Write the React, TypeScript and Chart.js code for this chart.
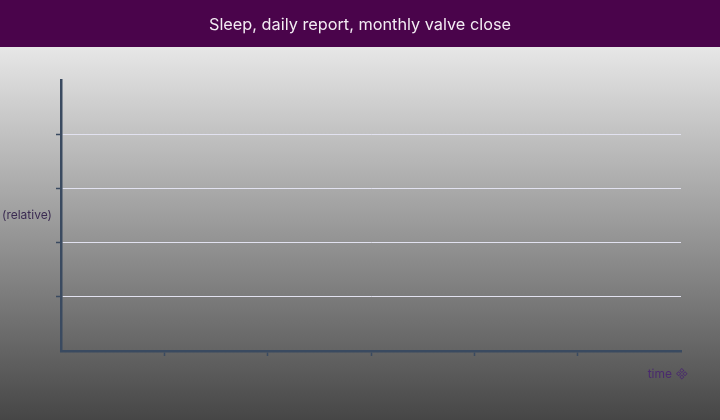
import { useEffect, useRef } from "react";
import Chart, { ChartConfiguration, Plugin } from "chart.js/auto";

// the report has no readings yet, only the empty frame
const timePoints: number[] = [];
const relativeValues: number[] = [];
const xRange = [0, 6];
const yRange = [0, 5];

const TITLE = "Sleep, daily report, monthly valve close";
const X_LABEL = "time \uE000";
const Y_LABEL = "(relative)";
const FONT = "Inter, 'Noto Sans', sans-serif";

const BAR_HEIGHT = 47;
const AXIS = "#3a4a60";

const inner = (ctx: any, max: number) =>
  ctx.tick && ctx.tick.value > 0 && ctx.tick.value < max;

const App: React.FC = () => {
  const chartRef = useRef<Chart<"line"> | null>(null);
  const canvasRef = useRef<HTMLCanvasElement | null>(null);

  useEffect(() => {
    // title band plus grey gradient behind everything
    const Backdrop: Plugin<"line"> = {
      id: "backdrop",
      beforeDraw(chart) {
        const { ctx, width, height } = chart;
        ctx.save();
        const grad = ctx.createLinearGradient(0, BAR_HEIGHT, 0, height);
        grad.addColorStop(0, "#e7e7e7");
        grad.addColorStop(1, "#464646");
        ctx.fillStyle = grad;
        ctx.fillRect(0, BAR_HEIGHT, width, height - BAR_HEIGHT);
        ctx.fillStyle = "#4a044b";
        ctx.fillRect(0, 0, width, BAR_HEIGHT);
        ctx.fillStyle = "#f3ecf3";
        ctx.font = `16.3px ${FONT}`;
        ctx.textAlign = "center";
        ctx.textBaseline = "middle";
        ctx.fillText(TITLE, width / 2, 25);
        ctx.restore();
      },
    };

    // axis captions sit horizontally, not rotated
    const AxisCaptions: Plugin<"line"> = {
      id: "axisCaptions",
      afterDraw(chart) {
        const { ctx, chartArea } = chart;
        ctx.save();
        ctx.font = `12px ${FONT}`;
        ctx.textBaseline = "middle";
        ctx.fillStyle = "#3b2b52";
        ctx.textAlign = "left";
        ctx.fillText(Y_LABEL, 2, (chartArea.top + chartArea.bottom) / 2);
        ctx.fillStyle = "#4a2a6e";
        ctx.textAlign = "right";
        ctx.fillText(X_LABEL, chartArea.right + 7, chartArea.bottom + 23);
        ctx.restore();
      },
    };

    const config: ChartConfiguration<"line"> = {
      type: "line",
      data: {
        datasets: [
          {
            label: "relative",
            data: timePoints.map((t, i) => ({ x: t, y: relativeValues[i] })),
            borderColor: "#4a044b",
          },
        ],
      },
      options: {
        animation: false,
        responsive: false,
        layout: { padding: { top: 80, left: 56, right: 39, bottom: 64 } },
        plugins: {
          legend: { display: false },
          title: { display: false },
          tooltip: { enabled: false },
        },
        scales: {
          x: {
            type: "linear",
            min: xRange[0],
            max: xRange[1],
            ticks: { display: false, stepSize: 1 },
            grid: {
              drawOnChartArea: false,
              tickLength: 5,
              tickWidth: 1.5,
              tickColor: (ctx: any) => (inner(ctx, xRange[1]) ? AXIS : "transparent"),
            },
            border: { color: AXIS, width: 2.5 },
          },
          y: {
            type: "linear",
            min: yRange[0],
            max: yRange[1],
            ticks: { display: false, stepSize: 1 },
            grid: {
              tickLength: 5,
              tickWidth: 1.5,
              color: (ctx: any) => (inner(ctx, yRange[1]) ? "#e2e2f0" : "transparent"),
              tickColor: (ctx: any) => (inner(ctx, yRange[1]) ? AXIS : "transparent"),
            },
            border: { color: AXIS, width: 2.5 },
          },
        },
      },
      plugins: [Backdrop, AxisCaptions],
    };

    if (chartRef.current) {
      chartRef.current.destroy();
    }
    if (canvasRef.current) {
      chartRef.current = new Chart(canvasRef.current, config);
    }
    return () => {
      if (chartRef.current) {
        chartRef.current.destroy();
        chartRef.current = null;
      }
    };
  }, []);

  return (
    <div style={{ position: "absolute", left: 0, top: 0, width: 720, height: 420 }}>
      <canvas ref={canvasRef} width={720} height={420} />
    </div>
  );
};

export default App;
